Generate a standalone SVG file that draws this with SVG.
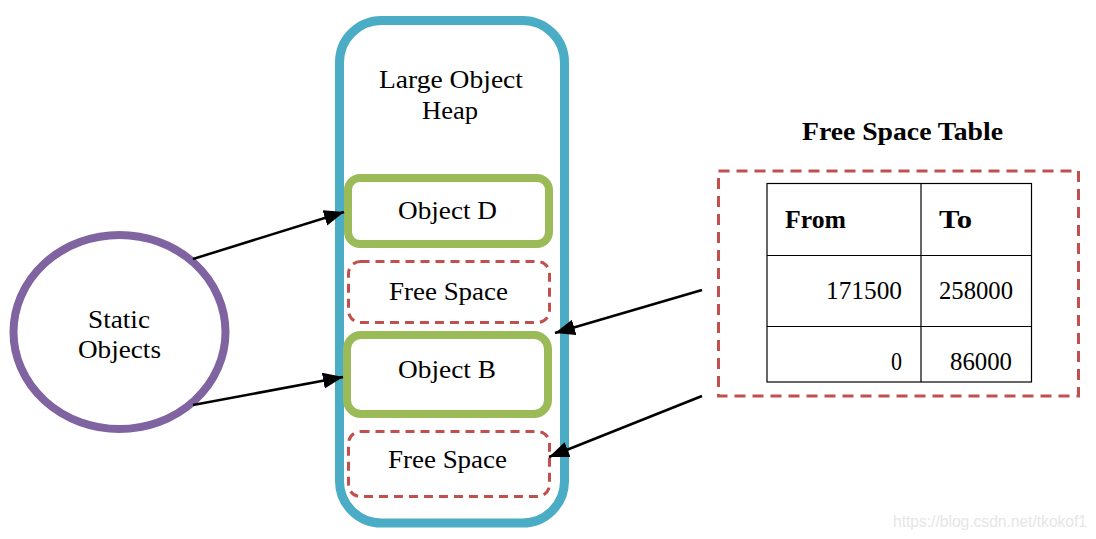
<svg xmlns="http://www.w3.org/2000/svg" width="1096" height="539" viewBox="0 0 1096 539">
<style>
.t{font-family:"Liberation Serif","Times New Roman",serif;font-size:25px;fill:#000}
.b{font-weight:bold}
.heap{fill:#fff;stroke:#4BACC6;stroke-width:9}
.obj{fill:#fff;stroke:#9BBB59;stroke-width:8}
.free{fill:#fff;stroke:#C0504D;stroke-width:3;stroke-dasharray:9 6}
.tbl{fill:none;stroke:#000;stroke-width:1.2}
.conn{stroke:#000;stroke-width:2.5;fill:none}
</style>
<defs>
<marker id="ah" markerUnits="userSpaceOnUse" markerWidth="22" markerHeight="18" refX="20" refY="8" orient="auto">
<path d="M0,0 L20,8 L0,16 Z" fill="#000"/>
</marker>
</defs>
<rect width="1096" height="539" fill="#fff"/>
<g id="heap">
<rect class="heap" x="339.5" y="20.5" width="225" height="502.5" rx="42"/>
<text class="t" x="451" y="88" text-anchor="middle" textLength="144" lengthAdjust="spacingAndGlyphs">Large Object</text>
<text class="t" x="450" y="119" text-anchor="middle" textLength="56" lengthAdjust="spacingAndGlyphs">Heap</text>
</g>
<g id="objectD">
<rect class="obj" x="348" y="178" width="201" height="66" rx="12"/>
<text class="t" x="447.5" y="219" text-anchor="middle" textLength="99" lengthAdjust="spacingAndGlyphs">Object D</text>
</g>
<g id="free1">
<rect class="free" x="348.5" y="261.5" width="201" height="61" rx="12"/>
<text class="t" x="448.5" y="299.5" text-anchor="middle" textLength="119" lengthAdjust="spacingAndGlyphs">Free Space</text>
</g>
<g id="objectB">
<rect class="obj" x="347" y="335" width="201" height="79" rx="14"/>
<text class="t" x="447" y="378" text-anchor="middle" textLength="98" lengthAdjust="spacingAndGlyphs">Object B</text>
</g>
<g id="free2">
<rect class="free" x="348.5" y="431.5" width="201" height="65" rx="12"/>
<text class="t" x="447.5" y="468" text-anchor="middle" textLength="119" lengthAdjust="spacingAndGlyphs">Free Space</text>
</g>
<g id="static">
<ellipse cx="119.5" cy="332" rx="106" ry="97" fill="#fff" stroke="#8064A2" stroke-width="8"/>
<text class="t" x="119" y="328" text-anchor="middle" textLength="62" lengthAdjust="spacingAndGlyphs">Static</text>
<text class="t" x="119.5" y="358" text-anchor="middle" textLength="83" lengthAdjust="spacingAndGlyphs">Objects</text>
</g>
<g id="freeTable">
<text class="t b" x="902.5" y="140" text-anchor="middle" textLength="201" lengthAdjust="spacingAndGlyphs">Free Space Table</text>
<rect x="718.5" y="171" width="360" height="225" fill="none" stroke="#C0504D" stroke-width="3" stroke-dasharray="11 7"/>
<rect class="tbl" x="767" y="183.5" width="264.5" height="198.5"/>
<line class="tbl" x1="921" y1="183.5" x2="921" y2="382"/>
<line class="tbl" x1="767" y1="255.5" x2="1031.5" y2="255.5"/>
<line class="tbl" x1="767" y1="326.5" x2="1031.5" y2="326.5"/>
<text class="t b" x="785" y="228" textLength="61" lengthAdjust="spacingAndGlyphs">From</text>
<text class="t b" x="939" y="228" textLength="33" lengthAdjust="spacingAndGlyphs">To</text>
<text class="t" x="826" y="299" textLength="76" lengthAdjust="spacingAndGlyphs">171500</text>
<text class="t" x="939" y="299" textLength="74" lengthAdjust="spacingAndGlyphs">258000</text>
<text class="t" x="891" y="370" textLength="11" lengthAdjust="spacingAndGlyphs">0</text>
<text class="t" x="950" y="370" textLength="62" lengthAdjust="spacingAndGlyphs">86000</text>
</g>
<g id="connectors">
<line class="conn" x1="193" y1="259" x2="344" y2="212" marker-end="url(#ah)"/>
<line class="conn" x1="193" y1="405" x2="343" y2="377" marker-end="url(#ah)"/>
<line class="conn" x1="702" y1="290" x2="555" y2="333" marker-end="url(#ah)"/>
<line class="conn" x1="702" y1="396" x2="549" y2="457" marker-end="url(#ah)"/>
</g>
<text x="893" y="527" font-family="Liberation Sans, Arial, sans-serif" font-size="16" fill="#e6e6e6" textLength="194" lengthAdjust="spacingAndGlyphs">https://blog.csdn.net/tkokof1</text>
</svg>
